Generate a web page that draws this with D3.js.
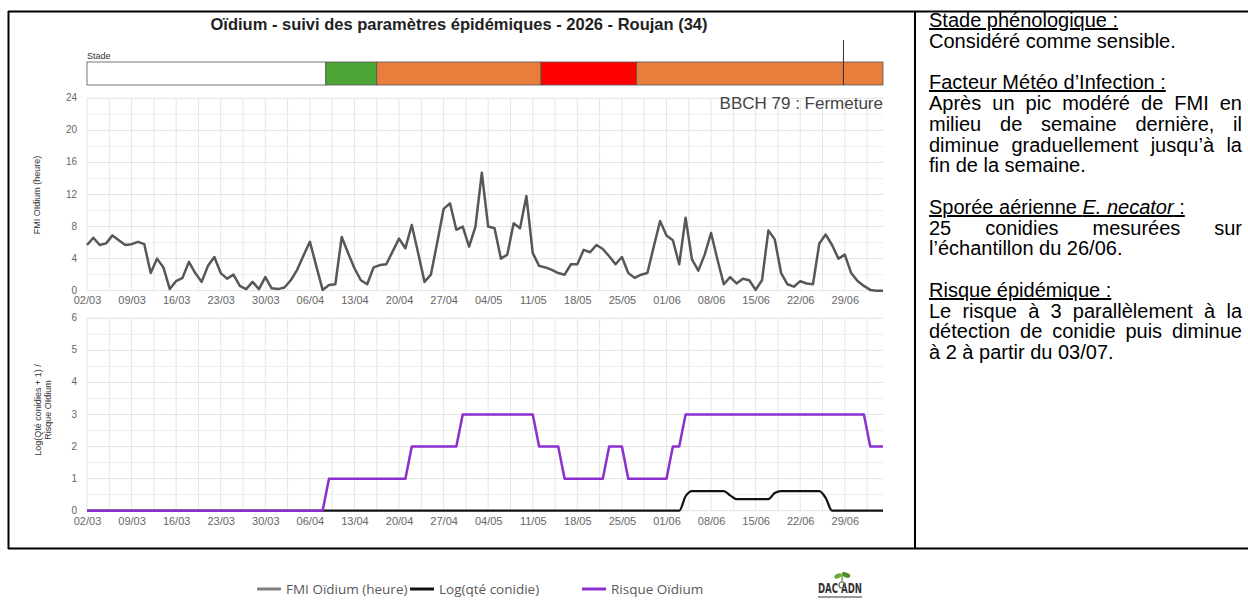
<!DOCTYPE html>
<html>
<head>
<meta charset="UTF-8">
<title>Oïdium - suivi des paramètres épidémiques - 2026 - Roujan (34)</title>
<script src="https://cdnjs.cloudflare.com/ajax/libs/d3/7.8.5/d3.min.js"></script>
<style>
    body {
        margin: 0;
        background: #fff;
        font-family: "Liberation Sans", Arial, sans-serif;
    }
    #wrap {
        position: relative;
        width: 1248px;
        height: 601px;
        overflow: hidden;
    }
    svg { position: absolute; left: 0; top: 0; }
    #notes {
        position: absolute;
        left: 929px;
        top: 10px;
        width: 313px;
        font-size: 20px;
        line-height: 20.75px;
        color: #000;
    }
    #notes div { white-space: nowrap; }
    #notes .j { text-align: justify; text-align-last: justify; }
    #notes .gap { height: 20.75px; }
</style>
</head>
<body>
<div id="wrap">
    <svg id="chart" width="1248" height="601"></svg>
    <div id="notes"></div>
</div>
<script>
    // daily values from 02/03/2026
    const startDay = "2026-03-02";
    const endDay = "2026-07-05";

    const fmiHours = [
        5.7, 6.6, 5.7, 5.9, 6.9, 6.3, 5.7, 5.8, 6.1, 5.8,
        2.2, 4.0, 2.9, 0.2, 1.2, 1.6, 3.6, 2.2, 1.1, 3.1,
        4.2, 2.2, 1.5, 2.0, 0.6, 0.2, 1.1, 0.2, 1.7, 0.3,
        0.2, 0.4, 1.3, 2.6, 4.4, 6.1, 3.1, 0.1, 0.7, 0.8,
        6.7, 4.7, 2.8, 1.3, 0.8, 2.9, 3.2, 3.3, 4.9, 6.5,
        5.3, 8.2, 4.7, 1.1, 2.0, 6.0, 10.2, 10.9, 7.6, 8.0,
        5.5, 8.0, 14.7, 8.0, 7.8, 4.0, 4.5, 8.4, 7.8, 11.8,
        4.7, 3.1, 2.9, 2.6, 2.2, 2.0, 3.3, 3.3, 5.1, 4.8,
        5.7, 5.2, 4.3, 3.3, 4.2, 2.2, 1.6, 2.0, 2.2, 5.5,
        8.7, 6.9, 6.3, 3.3, 9.1, 3.9, 2.5, 4.5, 7.2, 3.9,
        0.8, 1.7, 0.9, 1.5, 1.3, 0.1, 1.3, 7.5, 6.4, 2.2,
        0.8, 0.5, 1.2, 0.9, 0.8, 5.9, 7.0, 5.7, 4.0, 4.5,
        2.2, 1.2, 0.6, 0.1, 0.0, 0.0
    ];

    const logConidia = [
        0, 0, 0, 0, 0, 0, 0, 0, 0, 0,
        0, 0, 0, 0, 0, 0, 0, 0, 0, 0,
        0, 0, 0, 0, 0, 0, 0, 0, 0, 0,
        0, 0, 0, 0, 0, 0, 0, 0, 0, 0,
        0, 0, 0, 0, 0, 0, 0, 0, 0, 0,
        0, 0, 0, 0, 0, 0, 0, 0, 0, 0,
        0, 0, 0, 0, 0, 0, 0, 0, 0, 0,
        0, 0, 0, 0, 0, 0, 0, 0, 0, 0,
        0, 0, 0, 0, 0, 0, 0, 0, 0, 0,
        0, 0, 0, 0, 0.45, 0.61, 0.61, 0.61, 0.61, 0.61,
        0.61, 0.48, 0.36, 0.36, 0.36, 0.36, 0.36, 0.36, 0.55, 0.61,
        0.61, 0.61, 0.61, 0.61, 0.61, 0.61, 0.40, 0, 0, 0,
        0, 0, 0, 0, 0, 0
    ];

    const riskLevel = [
        0, 0, 0, 0, 0, 0, 0, 0, 0, 0,
        0, 0, 0, 0, 0, 0, 0, 0, 0, 0,
        0, 0, 0, 0, 0, 0, 0, 0, 0, 0,
        0, 0, 0, 0, 0, 0, 0, 0, 1, 1,
        1, 1, 1, 1, 1, 1, 1, 1, 1, 1,
        1, 2, 2, 2, 2, 2, 2, 2, 2, 3,
        3, 3, 3, 3, 3, 3, 3, 3, 3, 3,
        3, 2, 2, 2, 2, 1, 1, 1, 1, 1,
        1, 1, 2, 2, 2, 1, 1, 1, 1, 1,
        1, 1, 2, 2, 3, 3, 3, 3, 3, 3,
        3, 3, 3, 3, 3, 3, 3, 3, 3, 3,
        3, 3, 3, 3, 3, 3, 3, 3, 3, 3,
        3, 3, 3, 2, 2, 2
    ];

    // phenological stage bar
    const stageStarts = ["2026-03-02 00", "2026-04-08 12", "2026-04-16 12", "2026-05-12 07", "2026-05-27 07"];
    const stageKinds = ["none", "low", "sensitive", "very", "sensitive"];
    const stageEnd = "2026-07-05 00";
    const stageMarker = "2026-06-28 19";

    const fmiTicks = [0, 4, 8, 12, 16, 20, 24];
    const riskTicks = [0, 1, 2, 3, 4, 5, 6];

    const legendLabels = ["FMI Oïdium (heure)", "Log(qté conidie)", "Risque Oïdium"];

    const notes = [
        { head: "Stade phénologique :", lines: ["Considéré comme sensible."] },
        { head: "Facteur Météo d’Infection :", lines: ["Après un pic modéré de FMI en", "milieu de semaine dernière, il", "diminue graduellement jusqu’à la", "fin de la semaine."] },
        { head: "Sporée aérienne <i>E. necator</i> :", lines: ["25 conidies mesurées sur", "l’échantillon du 26/06."] },
        { head: "Risque épidémique :", lines: ["Le risque à 3 parallèlement à la", "détection de conidie puis diminue", "à 2 à partir du 03/07."] }
    ];

    const parseDay = d3.utcParse("%Y-%m-%d");
    const parseHour = d3.utcParse("%Y-%m-%d %H");
    const t0 = parseDay(startDay);
    const t1 = parseDay(endDay);
    const days = fmiHours.map((_, i) => d3.utcDay.offset(t0, i));

    const svg = d3.select("#chart");

    const x = d3.scaleUtc().domain([t0, t1]).range([87, 883]);
    const yTop = d3.scaleLinear().domain([0, 24]).range([290.7, 98.3]);
    const yBot = d3.scaleLinear().domain([0, 6]).range([510.7, 318.3]);

    const weekTicks = d3.utcDay.range(t0, d3.utcDay.offset(t1, 1), 7);
    const halfWeeks = d3.range(0, 126, 3.5).map(d => d3.utcHour.offset(t0, d * 24));

    // frame
    const frame = svg.append("g").attr("stroke", "#000").attr("stroke-width", 2);
    frame.append("line").attr("x1", 8).attr("x2", 1248).attr("y1", 11.5).attr("y2", 11.5);
    frame.append("line").attr("x1", 8.5).attr("x2", 8.5).attr("y1", 11).attr("y2", 549);
    frame.append("line").attr("x1", 8).attr("x2", 1248).attr("y1", 548.5).attr("y2", 548.5);
    frame.append("line").attr("x1", 915).attr("x2", 915).attr("y1", 11).attr("y2", 549);

    svg.append("text")
        .attr("x", 459).attr("y", 30)
        .attr("text-anchor", "middle")
        .attr("font-size", 16.5).attr("font-weight", "bold")
        .attr("fill", "#222")
        .text("Oïdium - suivi des paramètres épidémiques - 2026 - Roujan (34)");

    // stage bar
    const stageColor = d3.scaleOrdinal()
        .domain(["none", "low", "sensitive", "very"])
        .range(["#ffffff", "#4ba434", "#e97d3b", "#ff0000"]);

    svg.append("text").attr("x", 87).attr("y", 59)
        .attr("font-size", 9).attr("fill", "#333").text("Stade");

    const stageEdges = stageStarts.map(s => parseHour(s)).concat([parseHour(stageEnd)]);
    svg.append("g").selectAll("rect")
        .data(stageKinds)
        .join("rect")
        .attr("x", (d, i) => x(stageEdges[i]))
        .attr("width", (d, i) => x(stageEdges[i + 1]) - x(stageEdges[i]))
        .attr("y", 62).attr("height", 23)
        .attr("fill", d => stageColor(d))
        .attr("stroke", "#555").attr("stroke-width", 0.8);

    svg.append("line")
        .attr("x1", x(parseHour(stageMarker))).attr("x2", x(parseHour(stageMarker)))
        .attr("y1", 40).attr("y2", 85)
        .attr("stroke", "#333").attr("stroke-width", 1);

    function drawPanel(y, ticks, minorStep, tickPad) {
        const g = svg.append("g");
        const [lo, hi] = y.domain();
        const minor = d3.range(lo, hi + 0.001, minorStep);

        g.append("g").selectAll("line")
            .data(minor)
            .join("line")
            .attr("x1", x.range()[0]).attr("x2", x.range()[1])
            .attr("y1", d => y(d)).attr("y2", d => y(d))
            .attr("stroke", d => ticks.includes(d) ? "#e2e2e2" : "#eeeeee")
            .attr("stroke-width", 1);

        g.append("g").selectAll("line")
            .data(halfWeeks)
            .join("line")
            .attr("x1", d => x(d)).attr("x2", d => x(d))
            .attr("y1", y.range()[0]).attr("y2", y.range()[1])
            .attr("stroke", "#e6e6e6")
            .attr("stroke-width", 1);

        const xa = g.append("g")
            .attr("transform", `translate(0,${y.range()[0]})`)
            .call(d3.axisBottom(x).tickValues(weekTicks).tickFormat(d3.utcFormat("%d/%m")).tickSize(0).tickPadding(tickPad));
        xa.select(".domain").remove();
        xa.selectAll("text").attr("font-size", 11).attr("fill", "#666").attr("font-family", "Liberation Sans, Arial, sans-serif");

        const ya = g.append("g")
            .attr("transform", `translate(${x.range()[0]},0)`)
            .call(d3.axisLeft(y).tickValues(ticks).tickFormat(d3.format("d")).tickSize(0).tickPadding(10));
        ya.select(".domain").remove();
        ya.selectAll("text").attr("font-size", 10).attr("fill", "#666").attr("dy", "0.25em")
            .attr("font-family", "Liberation Sans, Arial, sans-serif");
        return g;
    }

    drawPanel(yTop, fmiTicks, 2, 6);
    drawPanel(yBot, riskTicks, 0.5, 7);

    svg.append("text")
        .attr("font-size", 17).attr("fill", "#444")
        .attr("text-anchor", "end")
        .attr("x", 883).attr("y", 109)
        .text("BBCH 79 : Fermeture");

    // axis titles
    svg.append("text")
        .attr("transform", "translate(37,195) rotate(-90)")
        .attr("text-anchor", "middle").attr("dominant-baseline", "central")
        .attr("font-size", 9).attr("fill", "#333")
        .text("FMI Oïdium (heure)");
    const botTitle = svg.append("text")
        .attr("transform", "translate(38,410) rotate(-90)")
        .attr("text-anchor", "middle")
        .attr("font-size", 9).attr("fill", "#333");
    botTitle.append("tspan").attr("x", 0).attr("dy", "0.3em").text("Log(Qté conidies + 1) /");
    botTitle.append("tspan").attr("x", 0).attr("dy", "1.15em").text("Risque Oïdium");

    // series
    const fmiLine = d3.line().x((d, i) => x(days[i])).y(d => yTop(d));
    svg.append("path")
        .datum(fmiHours)
        .attr("d", fmiLine)
        .attr("fill", "none").attr("stroke", "#575757")
        .attr("stroke-width", 2.5).attr("stroke-linejoin", "round");

    const conLine = d3.line().x((d, i) => x(days[i])).y(d => yBot(d)).curve(d3.curveMonotoneX);
    svg.append("path")
        .datum(logConidia)
        .attr("d", conLine)
        .attr("fill", "none").attr("stroke", "#111")
        .attr("stroke-width", 2.2);

    const riskLine = d3.line().x((d, i) => x(days[i])).y(d => yBot(d));
    svg.append("path")
        .datum(riskLevel)
        .attr("d", riskLine)
        .attr("fill", "none").attr("stroke", "#8b2fcf")
        .attr("stroke-width", 2.5).attr("stroke-linejoin", "round");

    // legend
    const legendColors = ["#808080", "#111111", "#8b2fcf"];
    const legendX = [257, 410, 582];
    const legend = svg.append("g").attr("font-family", "'Open Sans', sans-serif").attr("font-size", 13.5);
    legendLabels.forEach((lab, i) => {
        legend.append("line")
            .attr("x1", legendX[i]).attr("x2", legendX[i] + 24)
            .attr("y1", 589).attr("y2", 589)
            .attr("stroke", legendColors[i]).attr("stroke-width", 3);
        legend.append("text")
            .attr("x", legendX[i] + 29).attr("y", 594)
            .attr("fill", "#595959")
            .text(lab);
    });

    // logo
    const logo = svg.append("g").attr("transform", "translate(818,560)");
    logo.append("text").attr("x", 0).attr("y", 33)
        .attr("font-family", "'DejaVu Sans Condensed', 'DejaVu Sans', sans-serif")
        .attr("font-weight", "bold").attr("font-size", 14).attr("fill", "#333")
        .attr("textLength", 44).attr("lengthAdjust", "spacingAndGlyphs")
        .text("DAC ADN");
    logo.append("circle").attr("cx", 24).attr("cy", 25).attr("r", 3).attr("fill", "none").attr("stroke", "#666").attr("stroke-width", 1.2);
    logo.append("ellipse").attr("cx", 20).attr("cy", 16).attr("rx", 4).attr("ry", 2.2).attr("fill", "#6aa83a").attr("transform", "rotate(-25,20,16)");
    logo.append("ellipse").attr("cx", 28).attr("cy", 15).attr("rx", 4.5).attr("ry", 2.4).attr("fill", "#4f8f2c").attr("transform", "rotate(20,28,15)");
    logo.append("line").attr("x1", 24).attr("x2", 24).attr("y1", 16).attr("y2", 22).attr("stroke", "#4f8f2c").attr("stroke-width", 1.2);
    logo.append("line").attr("x1", 0).attr("x2", 44).attr("y1", 37).attr("y2", 37).attr("stroke", "#333").attr("stroke-width", 1);

    // notes panel
    const panel = d3.select("#notes");
    notes.forEach((n, k) => {
        if (k > 0) panel.append("div").attr("class", "gap");
        panel.append("div").append("u").html(n.head);
        n.lines.forEach((l, i) => {
            panel.append("div")
                .attr("class", i < n.lines.length - 1 ? "j" : null)
                .text(l);
        });
    });
</script>
</body>
</html>
